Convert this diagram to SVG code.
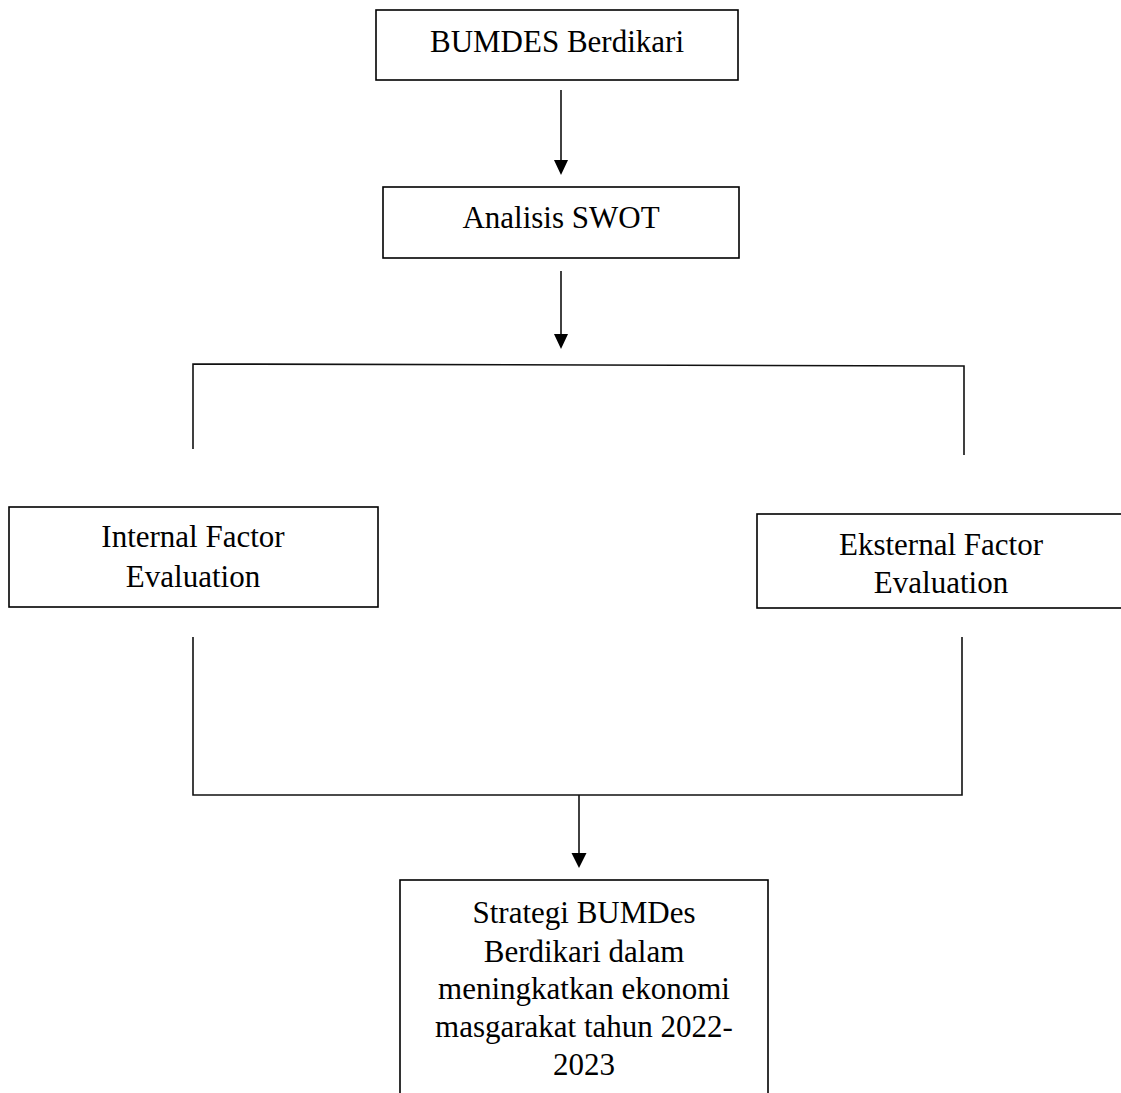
<svg xmlns="http://www.w3.org/2000/svg" width="1121" height="1093" viewBox="0 0 1121 1093">
<style>
.box{fill:#fff;stroke:#000;stroke-width:1.6}
.ln{fill:none;stroke:#111;stroke-width:1.6}
text{font-family:"Liberation Serif","Times New Roman",serif;font-size:31px;fill:#000;text-anchor:middle}
</style>
<defs>
<marker id="ah" markerWidth="14" markerHeight="16" refX="7" refY="15" orient="auto" markerUnits="userSpaceOnUse" viewBox="0 0 14 16">
<path d="M0,0 L14,0 L7,16 Z" fill="#000" transform="rotate(0)"/>
</marker>
</defs>
<g id="n1"><rect class="box" x="376" y="10" width="362" height="70"/><text x="557" y="52">BUMDES Berdikari</text></g>
<g id="n2"><rect class="box" x="383" y="187" width="356" height="71"/><text x="561" y="228">Analisis SWOT</text></g>
<g id="n3"><rect class="box" x="9" y="507" width="369" height="100"/><text x="193" y="547">Internal Factor</text><text x="193" y="587">Evaluation</text></g>
<g id="n4"><rect class="box" x="757" y="514" width="370" height="94"/><text x="941" y="555">Eksternal Factor</text><text x="941" y="593">Evaluation</text></g>
<g id="n5"><rect class="box" x="400" y="880" width="368" height="220"/>
<text x="584" y="923">Strategi BUMDes</text>
<text x="584" y="962">Berdikari dalam</text>
<text x="584" y="999">meningkatkan ekonomi</text>
<text x="584" y="1037">masgarakat tahun 2022-</text>
<text x="584" y="1075">2023</text></g>
<g id="connectors">
<line class="ln" x1="561" y1="90" x2="561" y2="160"/>
<path d="M554,160 L568,160 L561,175 Z" fill="#000"/>
<line class="ln" x1="561" y1="271" x2="561" y2="334"/>
<path d="M554,334 L568,334 L561,349 Z" fill="#000"/>
<polyline class="ln" points="193,449 193,364 964,366 964,455"/>
<polyline class="ln" points="193,637 193,795 962,795 962,637"/>
<line class="ln" x1="579" y1="795" x2="579" y2="853"/>
<path d="M571.5,853 L586.5,853 L579,868 Z" fill="#000"/>
</g>
</svg>
